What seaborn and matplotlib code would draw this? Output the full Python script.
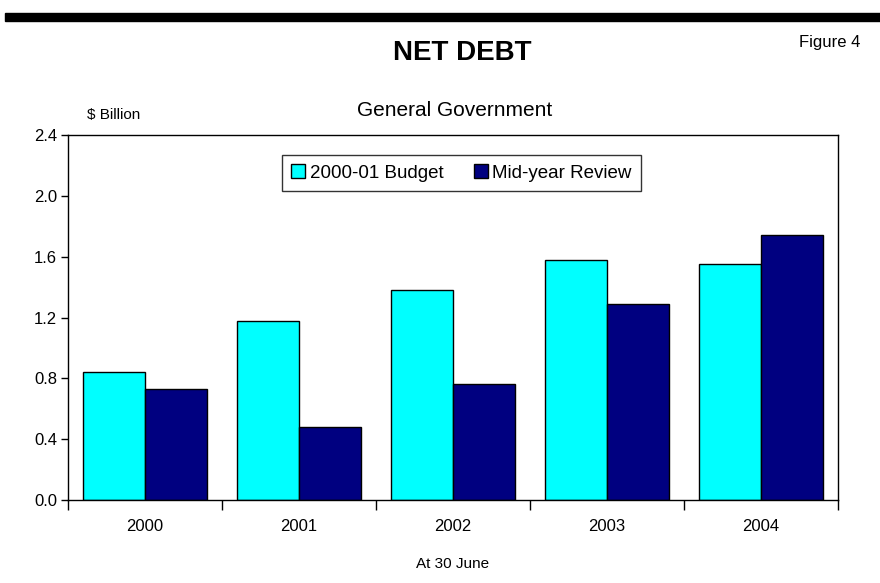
import matplotlib
matplotlib.use("Agg")
import matplotlib.pyplot as plt
import seaborn as sns
import pandas as pd
from matplotlib.patches import Rectangle

years = ["2000", "2001", "2002", "2003", "2004"]
budget = [0.84, 1.18, 1.38, 1.58, 1.55]
review = [0.73, 0.48, 0.76, 1.29, 1.74]
series_names = ["2000-01 Budget", "Mid-year Review"]
yticks = [0.0, 0.4, 0.8, 1.2, 1.6, 2.0, 2.4]

df = pd.DataFrame({
    "year": years * 2,
    "value": budget + review,
    "series": [series_names[0]] * len(years) + [series_names[1]] * len(years),
})

sns.set_theme(style="white")
plt.rcParams['font.family'] = ['Liberation Sans', 'DejaVu Sans']
plt.rcParams['text.color'] = 'black'
plt.rcParams['xtick.color'] = 'black'
plt.rcParams['ytick.color'] = 'black'
plt.rcParams['axes.labelcolor'] = 'black'

fig = plt.figure(figsize=(8.8, 5.83), dpi=100)
W, H = 880, 583
ax = fig.add_axes([68 / W, 1 - 500 / H, 770 / W, 365 / H])

sns.barplot(data=df, x="year", y="value", hue="series", order=years,
            hue_order=series_names, palette=["#00FFFF", "#000080"],
            edgecolor="black", linewidth=1, width=0.8, saturation=1,
            ax=ax)

ax.set_ylim(0, 2.4)
ax.set_xlim(-0.5, 4.5)
ax.set_yticks(yticks)
ax.set_yticklabels([f"{v:.1f}" for v in yticks], fontsize=12)
ax.set_xticks([i + 0.5 for i in range(-1, 5)], minor=False)
ax.set_xticklabels([])
ax.set_xticks(range(5), minor=True)
ax.set_xticklabels(years, minor=True, fontsize=12)
ax.tick_params(axis="x", which="major", direction="out", length=7, width=1, color="black", bottom=True)
ax.tick_params(axis="x", which="minor", length=0, pad=14)
ax.tick_params(axis="y", direction="out", length=5, width=1, color="black", left=True, pad=3)
ax.set_xlabel("")
ax.set_ylabel("")
for s in ax.spines.values():
    s.set_color("black")
    s.set_linewidth(1)

leg = ax.legend(loc="upper center", bbox_to_anchor=(0.511, 0.945), ncol=2,
                frameon=True, fancybox=False, fontsize=13.5, handlelength=0.75,
                handleheight=0.75, handletextpad=0.25, columnspacing=1.6,
                borderpad=0.5, borderaxespad=0)
leg.get_frame().set_edgecolor("black")
leg.get_frame().set_linewidth(1)
leg.set_title(None)
for t in leg.get_texts():
    t.set_color("black")

# top rule
fig.add_artist(Rectangle((5 / W, 1 - 21 / H), 875 / W, 8 / H,
                         transform=fig.transFigure, color="black"))

fig.text(462 / W, 1 - 53 / H, "NET DEBT", ha="center", va="center",
         fontsize=20, fontweight="bold", color="black")
fig.text(830 / W, 1 - 42 / H, "Figure 4", ha="center", va="center", fontsize=12, color="black")
fig.text(455 / W, 1 - 110 / H, "General Government", ha="center", va="center", fontsize=15, color="black")
fig.text(114 / W, 1 - 115 / H, "$ Billion", ha="center", va="center", fontsize=11, color="black")
fig.text(453 / W, 1 - 564 / H, "At 30 June", ha="center", va="center", fontsize=11, color="black")

fig.savefig("out.png", dpi=100)
